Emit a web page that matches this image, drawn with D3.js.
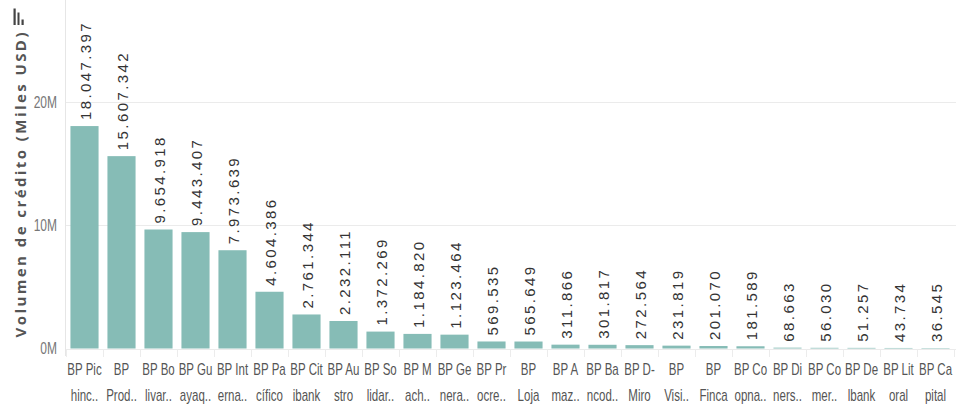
<!DOCTYPE html>
<html><head><meta charset="utf-8">
<script src="https://cdn.jsdelivr.net/npm/d3@7"></script>
<style>
html,body{margin:0;padding:0;background:#fff;}
svg{display:block;}
</style></head>
<body>
<svg id="chart" width="956" height="410"></svg>
<script>
const labelLine1 = ["BP Pic","BP","BP Bo","BP Gu","BP Int","BP Pa","BP Cit","BP Au","BP So","BP M","BP Ge","BP Pr","BP","BP A","BP Ba","BP D-","BP","BP","BP Co","BP Di","BP Co","BP De","BP Lit","BP Ca"];
const labelLine2 = ["hinc..","Prod..","livar..","ayaq..","erna..","cífico","ibank","stro","lidar..","ach..","nera..","ocre..","Loja","maz..","ncod..","Miro","Visi..","Finca","opna..","ners..","mer..","lbank","oral","pital"];
const values = [18047397,15607342,9654918,9443407,7973639,4604386,2761344,2232111,1372269,1184820,1123464,569535,565649,311866,301817,272564,231819,201070,181589,68663,56030,51257,43734,36545];
const yTicks = [0,10000000,20000000];
const yTickLabels = ["0M","10M","20M"];
const yTitle = "Volumen de crédito (Miles USD)";

const svg = d3.select("#chart");
const idx = d3.range(values.length);
const x = d3.scaleBand().domain(idx).range([66,954]).paddingInner(0.24).paddingOuter(0.12);
const y = d3.scaleLinear().domain([0,20000000]).range([348.5,102]);
const sans = "'Liberation Sans',Arial,sans-serif";
const squeeze = 0.72;

// gridlines
svg.append("g").selectAll("line").data(yTicks).join("line")
  .attr("x1",65).attr("x2",956)
  .attr("y1",d=>Math.round(y(d))+0.5).attr("y2",d=>Math.round(y(d))+0.5)
  .attr("stroke","#ebebeb").attr("stroke-width",1);

// left axis line
svg.append("line").attr("x1",65.5).attr("x2",65.5).attr("y1",0).attr("y2",356)
  .attr("stroke","#e6e6e6");

// y tick labels
svg.append("g").selectAll("text").data(yTicks).join("text")
  .attr("transform",d=>`translate(57,${y(d)}) scale(0.75,1)`)
  .attr("text-anchor","end").attr("dy","0.36em")
  .attr("font-family",sans).attr("font-size",16).attr("fill","#777")
  .text((d,i)=>yTickLabels[i]);

// x band separators
const step = x.step();
svg.append("g").selectAll("line").data(d3.range(values.length+1)).join("line")
  .attr("x1",d=>Math.round(66+d*step)+0.5).attr("x2",d=>Math.round(66+d*step)+0.5)
  .attr("y1",349).attr("y2",357).attr("stroke","#ececec");

// bars
svg.append("g").selectAll("rect").data(values).join("rect")
  .attr("x",(d,i)=>x(i)).attr("width",x.bandwidth())
  .attr("y",d=>y(d)).attr("height",d=>y(0)-y(d))
  .attr("fill","#86bcb6");

// value labels
const fmt = d3.formatLocale({decimal:",",thousands:".",grouping:[3],currency:["",""]}).format(",d");
svg.append("g").selectAll("text").data(values).join("text")
  .attr("transform",(d,i)=>`translate(${x(i)+x.bandwidth()/2+1},${y(d)-6}) rotate(-90)`)
  .attr("dy","0.36em")
  .attr("font-family",sans).attr("font-size",15)
  .attr("letter-spacing","2.4px")
  .attr("fill","#333").text(d=>fmt(d));

// x labels
const gx = svg.append("g");
gx.selectAll("text.l1").data(labelLine1).join("text").attr("class","l1")
  .attr("transform",(d,i)=>`translate(${x(i)+x.bandwidth()/2},375) scale(${squeeze},1)`)
  .attr("text-anchor","middle").attr("font-family",sans).attr("font-size",16).attr("fill","#555").text(d=>d);
gx.selectAll("text.l2").data(labelLine2).join("text").attr("class","l2")
  .attr("transform",(d,i)=>`translate(${x(i)+x.bandwidth()/2},401) scale(${squeeze},1)`)
  .attr("text-anchor","middle").attr("font-family",sans).attr("font-size",16).attr("fill","#555").text(d=>d);

// y title
svg.append("text").attr("transform","translate(21,185) rotate(-90)")
  .attr("text-anchor","middle").attr("dy","0.36em")
  .attr("font-family","'Open Sans','Noto Sans',sans-serif").attr("font-weight","bold")
  .attr("font-size",15).attr("textLength",305).attr("lengthAdjust","spacing")
  .attr("fill","#555").text(yTitle);

// sort icon
const icon = svg.append("g").attr("fill","#444");
icon.append("rect").attr("x",13.5).attr("y",8.5).attr("width",2.2).attr("height",16.5);
icon.append("rect").attr("x",17.5).attr("y",12.5).attr("width",2).attr("height",12.5);
icon.append("rect").attr("x",21.5).attr("y",19.5).attr("width",2.2).attr("height",5.5);
</script>
</body></html>
